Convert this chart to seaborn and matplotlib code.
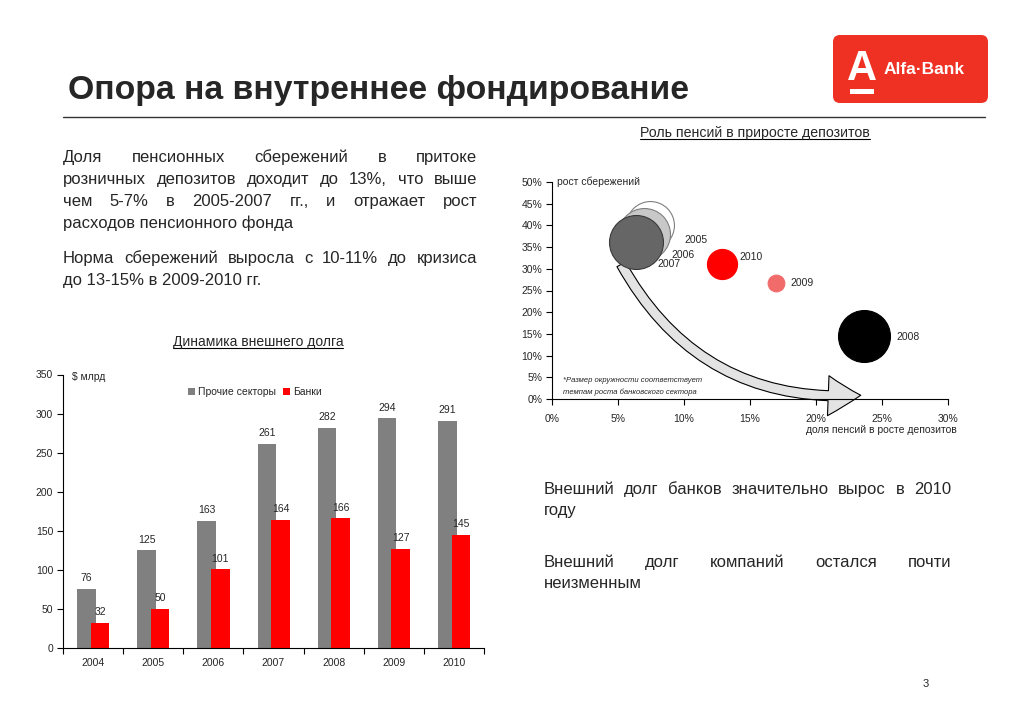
import matplotlib
matplotlib.use("Agg")
import numpy as np
import pandas as pd
import matplotlib.pyplot as plt
import seaborn as sns
from matplotlib.patches import FancyArrowPatch, FancyBboxPatch, Rectangle
from matplotlib.lines import Line2D

# ---- data ------------------------------------------------------------
years = ["2004", "2005", "2006", "2007", "2008", "2009", "2010"]
other_sectors = [76, 125, 163, 261, 282, 294, 291]
banks = [32, 50, 101, 164, 166, 127, 145]

bubble_years = ["2005", "2006", "2007", "2010", "2009", "2008"]
pension_share = [7.4, 7.0, 6.4, 12.9, 17.0, 23.6]      # % of deposit growth
savings_growth = [40.1, 38.0, 36.2, 31.1, 26.7, 14.5]  # %
bubble_area = [1190, 1400, 1510, 470, 145, 1400]        # bank sector growth

bubble_fill = ["white", "#c8c8c8", "#666666", "#ff0000", "#f26b6b", "#000000"]
bubble_edge = ["#7f7f7f", "#7f7f7f", "#3a3a3a", "#ff0000", "#f26b6b", "#000000"]
label_offset = [(46, -15), (39, -21), (33, -22), (29, 7), (26, 0), (45, -1)]

sns.set_theme(style="ticks")
plt.rcParams["font.family"] = ["Liberation Sans", "DejaVu Sans"]

W, H = 1024, 724
fig = plt.figure(figsize=(W / 100, H / 100), dpi=100)
fig.patch.set_facecolor("white")
renderer = fig.canvas.get_renderer()


def px(x, y):
    return x / W, 1 - y / H


def text_line(line, x0, x1, y, size=12, justify=True):
    # y is the visual middle of the capitals; words sit on a common baseline
    yb = y + 4.3
    words = line.split()
    if not justify or len(words) == 1:
        fig.text(*px(x0, yb), line, fontsize=size, va="baseline")
        return
    arts = [fig.text(0, 1 - yb / H, w, fontsize=size, va="baseline") for w in words]
    widths = [a.get_window_extent(renderer).width for a in arts]
    gap = (x1 - x0 - sum(widths)) / (len(words) - 1)
    x = x0
    for a, w in zip(arts, widths):
        a.set_x(x / W)
        x += w + gap


def underlined(x, y, s, size=10):
    t = fig.text(*px(x, y), s, fontsize=size, ha="center", va="center")
    bb = t.get_window_extent(renderer)
    fig.add_artist(Line2D([bb.x0 / W, bb.x1 / W], [(bb.y0 + 1) / H] * 2,
                          color="black", lw=0.8))


# ---- header ----------------------------------------------------------
fig.text(*px(68, 90), "Опора на внутреннее фондирование", fontsize=24.3,
         fontweight="bold", va="center")
fig.add_artist(Line2D([63 / W, 985 / W], [1 - 117 / H] * 2, color="#333333", lw=1))

logo = FancyBboxPatch((8.33, 6.21), 1.55, 0.68, boxstyle="round,pad=0,rounding_size=0.07",
                      transform=fig.dpi_scale_trans, fc="#ef3124", ec="none")
fig.add_artist(logo)
fig.text(*px(861.5, 80.5), "A", fontsize=30, fontweight="bold", color="white",
         ha="center", va="baseline")
fig.add_artist(Rectangle((8.50, 7.24 - 0.935), 0.245, 0.05,
                         transform=fig.dpi_scale_trans, fc="white", ec="none"))
fig.text(*px(884, 69), "Alfa·Bank", fontsize=12.5, fontweight="bold", color="white",
         va="center")

# ---- body text -------------------------------------------------------
text_line("Доля пенсионных сбережений в притоке", 63, 477, 158)
text_line("розничных депозитов доходит до 13%, что выше", 63, 477, 180)
text_line("чем 5-7% в 2005-2007 гг., и отражает рост", 63, 477, 202)
text_line("расходов пенсионного фонда", 63, 477, 224, justify=False)
text_line("Норма сбережений выросла с 10-11% до кризиса", 63, 477, 259)
text_line("до 13-15% в 2009-2010 гг.", 63, 477, 281, justify=False)

text_line("Внешний долг банков значительно вырос в 2010", 544, 951, 490)
text_line("году", 544, 951, 511, justify=False)
text_line("Внешний долг компаний остался почти", 544, 951, 563)
text_line("неизменным", 544, 951, 584, justify=False)

fig.text(*px(926, 684), "3", fontsize=8, ha="center", va="center")

# ---- external debt bars ----------------------------------------------
underlined(258, 342, "Динамика внешнего долга", 10)
ax1 = fig.add_axes([63 / W, 1 - 648 / H, 421 / W, 273.5 / H])
idx = np.arange(len(years))
df_o = pd.DataFrame({"pos": idx - 0.11, "value": other_sectors})
df_b = pd.DataFrame({"pos": idx + 0.115, "value": banks})
sns.barplot(data=df_o, x="pos", y="value", native_scale=True, width=0.31,
            color="#808080", saturation=1, linewidth=0, errorbar=None,
            label="Прочие секторы", ax=ax1)
sns.barplot(data=df_b, x="pos", y="value", native_scale=True, width=0.31,
            color="#ff0000", saturation=1, linewidth=0, errorbar=None,
            label="Банки", ax=ax1)
for c in ax1.containers:
    ax1.bar_label(c, fontsize=7.5, padding=4)
ax1.set_xlim(-0.5, 6.5)
ax1.set_ylim(0, 350)
ax1.set_xticks(idx, years)
ax1.set_xticks(np.arange(-0.5, 7), minor=True)
ax1.set_yticks(np.arange(0, 351, 50))
ax1.tick_params(axis="x", which="major", length=0, labelsize=7.5, pad=7)
ax1.tick_params(axis="x", which="minor", length=4, width=0.8, color="black")
ax1.tick_params(axis="y", length=4, width=0.8, labelsize=7.5, pad=3, color="black")
ax1.set_xlabel("")
ax1.set_ylabel("")
sns.despine(ax=ax1)
for s in ("left", "bottom"):
    ax1.spines[s].set_color("black")
    ax1.spines[s].set_linewidth(0.8)
ax1.text(0.021, 0.99, "$ млрд", transform=ax1.transAxes, fontsize=7.5, va="center")
ax1.legend(loc="center", bbox_to_anchor=(0.456, 0.936), ncol=2, frameon=False,
           fontsize=7.5, handlelength=0.7, handleheight=0.7, handletextpad=0.3,
           columnspacing=0.6)

# ---- pensions bubble chart ------------------------------------------
underlined(755, 133, "Роль пенсий в приросте депозитов", 10.2)
ax2 = fig.add_axes([552 / W, 1 - 399 / H, 396 / W, 217 / H])
ax2.set_xlim(0, 30)
ax2.set_ylim(0, 50)

arrow = FancyArrowPatch((5.15, 31.6), (23.6, 0.9), connectionstyle="arc3,rad=0.32",
                        arrowstyle="simple,head_length=1.3,head_width=1.6,tail_width=0.4",
                        mutation_scale=18, fc="#e3e3e3", ec="black", lw=0.8,
                        clip_on=False, zorder=1)
ax2.add_patch(arrow)

for i, yr in enumerate(bubble_years):
    sns.scatterplot(x=[pension_share[i]], y=[savings_growth[i]], s=bubble_area[i],
                    color=bubble_fill[i], edgecolor=bubble_edge[i], linewidth=0.8,
                    clip_on=False, zorder=2 + i, ax=ax2)
    ax2.annotate(yr, (pension_share[i], savings_growth[i]), xytext=label_offset[i],
                 textcoords="offset pixels", fontsize=7.5, ha="center", va="center")

ax2.set_xticks(np.arange(0, 31, 5), [f"{v}%" for v in range(0, 31, 5)])
ax2.set_yticks(np.arange(0, 51, 5), [f"{v}%" for v in range(0, 51, 5)])
ax2.tick_params(axis="x", length=4, width=0.8, labelsize=7.5, pad=7, color="black")
ax2.tick_params(axis="y", length=4, width=0.8, labelsize=7.5, pad=3, color="black")
sns.despine(ax=ax2)
for s in ("left", "bottom"):
    ax2.spines[s].set_color("black")
    ax2.spines[s].set_linewidth(0.8)
ax2.text(0.013, 1.0, "рост сбережений", transform=ax2.transAxes, fontsize=7.5, va="center")
ax2.text(1.023, -0.143, "доля пенсий в росте депозитов", transform=ax2.transAxes,
         fontsize=7.5, ha="right", va="center")
ax2.text(0.028, 0.083, "*Размер окружности соответствует", transform=ax2.transAxes,
         fontsize=5.5, style="italic", va="center")
ax2.text(0.028, 0.032, "темпам роста банковского сектора", transform=ax2.transAxes,
         fontsize=5.5, style="italic", va="center")

fig.savefig("out.png", dpi=100, facecolor="white")
